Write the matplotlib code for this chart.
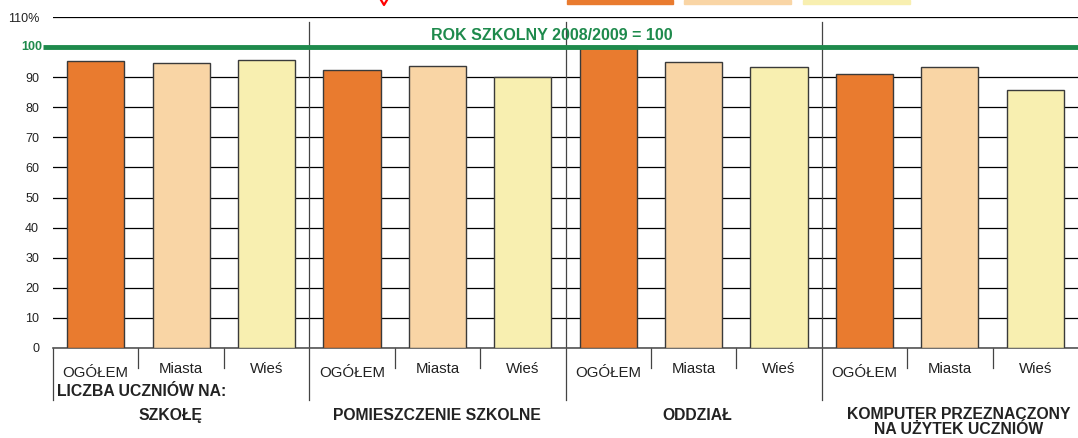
import matplotlib.pyplot as plt
from matplotlib.patches import Rectangle
from matplotlib.lines import Line2D
import numpy as np

plt.rcParams['font.family'] = ['Liberation Sans', 'DejaVu Sans']

# dane: indeksy, rok szkolny 2008/2009 = 100
kategorie = ['OGÓŁEM', 'Miasta', 'Wieś']
grupy = ['SZKOŁĘ', 'POMIESZCZENIE SZKOLNE', 'ODDZIAŁ',
         'KOMPUTER PRZEZNACZONY\nNA UŻYTEK UCZNIÓW']
szkola = [95.4, 94.8, 95.7]
pomieszczenie = [92.3, 93.7, 90.0]
oddzial = [100.2, 95.2, 93.3]
komputer = [90.9, 93.3, 85.7]
kolory = ['#E97B2F', '#F9D5A5', '#F8EFB0']
zielony = '#1E8A4C'

wartosci = szkola + pomieszczenie + oddzial + komputer
x = np.arange(len(wartosci))

fig = plt.figure(figsize=(10.78, 4.38), dpi=100)
ax = fig.add_axes([53/1078, 1 - 348/438, 1 - 53/1078, (348 - 17)/438])

ax.bar(x, wartosci, width=0.67, color=kolory * 4, edgecolor='#3a3a3a',
       linewidth=1, zorder=3)

ax.set_xlim(-0.5, 11.5)
ax.set_ylim(0, 110)
ax.set_yticks(range(0, 111, 10))
ax.set_yticklabels([str(v) if v not in (100, 110) else ('' if v == 100 else '110%')
                    for v in range(0, 111, 10)], fontsize=9, color='#222222')
ax.tick_params(axis='y', length=0, pad=10)
ax.yaxis.grid(True, color='black', linewidth=0.9, zorder=0)
ax.set_xticks([])
for s in ['top', 'right', 'left']:
    ax.spines[s].set_visible(False)
ax.spines['bottom'].set_color('#555555')
ax.spines['bottom'].set_linewidth(1.2)

# linia 100
ax.plot([-0.62, 11.5], [100, 100], color=zielony, linewidth=3.5, zorder=4,
        clip_on=False, solid_capstyle='butt')
ax.text(-0.62, 100, '100', color=zielony, fontsize=9, fontweight='bold',
        ha='right', va='center')
ax.text(5.34, 104, 'ROK SZKOLNY 2008/2009 = 100', color=zielony, fontsize=11.5,
        fontweight='bold', ha='center', va='center', zorder=5)

# linie oddzielające grupy
for g in [2.5, 5.5, 8.5]:
    ax.plot([g, g], [-17.3, 108.3], color='#444444', linewidth=0.9, zorder=2,
            clip_on=False)
ax.plot([-0.5, -0.5], [-17.3, 0], color='#444444', linewidth=0.9, clip_on=False)
for t in [0.5, 1.5, 3.5, 4.5, 6.5, 7.5, 9.5, 10.5]:
    ax.plot([t, t], [-6.6, 0], color='#444444', linewidth=0.9, clip_on=False)

# podpisy kategorii
for i in x:
    k = kategorie[i % 3]
    y = -9.6 if k == 'OGÓŁEM' else -8.3
    ax.text(i, y, k, fontsize=10.8, ha='center', va='baseline', color='#222222')

ax.text(-0.45, -14.6, 'LICZBA UCZNIÓW NA:', fontsize=11.3, fontweight='bold',
        ha='left', va='center', color='#222222')
for gx, gy, nazwa in zip([0.87, 4.0, 7.04, 10.1], [-22.4, -22.4, -22.4, -24.6], grupy):
    ax.text(gx, gy, nazwa, fontsize=11.3, fontweight='bold', ha='center',
            va='center', color='#222222', linespacing=1.05)

# ucięta legenda i znaczek u góry
for x0, x1, c in [(567, 673, kolory[0]), (684, 791, kolory[1]), (803, 910, kolory[2])]:
    fig.patches.append(Rectangle((x0/1078, 1 - 4/438), (x1 - x0)/1078, 4/438,
                                 transform=fig.transFigure, color=c))
fig.add_artist(Line2D([381/1078, 384/1078, 387/1078], [1, 1 - 5/438, 1],
                      transform=fig.transFigure, color='red', linewidth=1.6))

fig.savefig('out.png', dpi=100)
